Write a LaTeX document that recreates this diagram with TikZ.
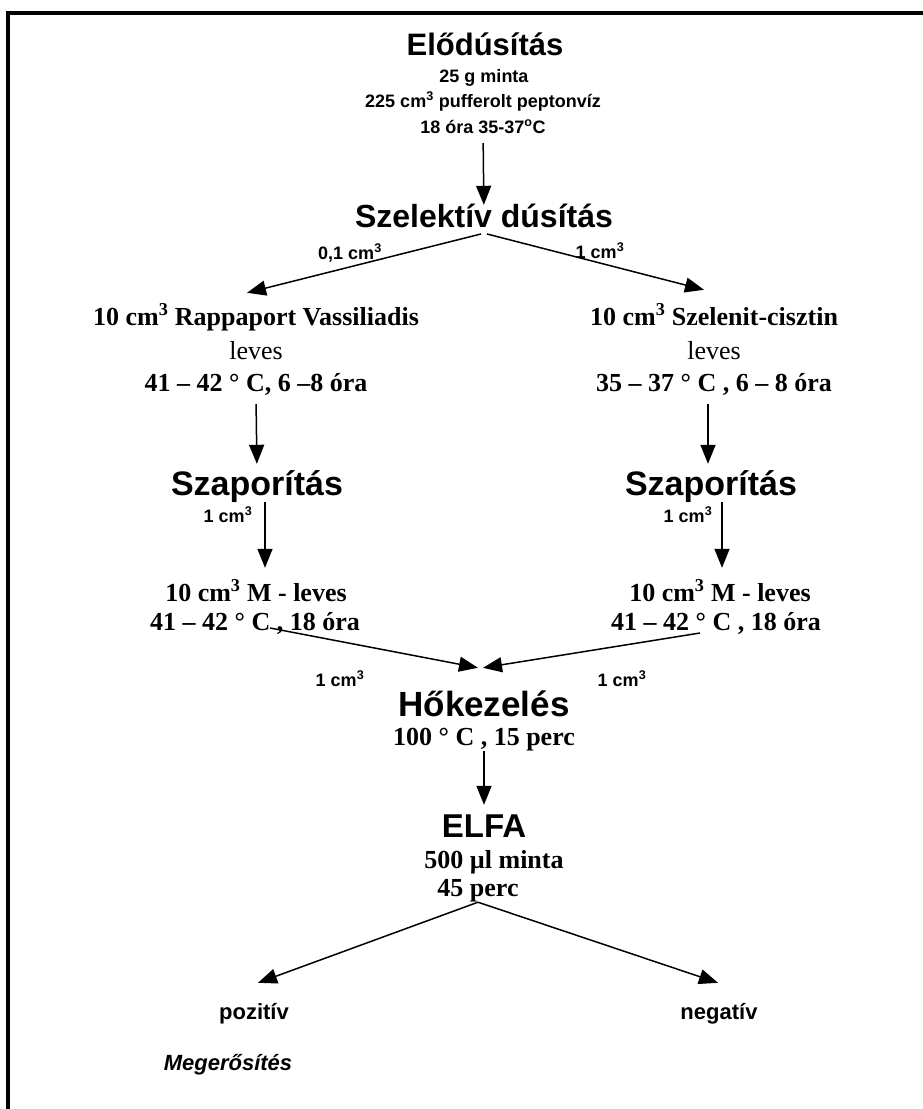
\documentclass[tikz,border=0pt]{standalone}
\usepackage{fontspec}
\setmainfont{Liberation Serif}
\newfontfamily\arialfont{Liberation Sans}
\usetikzlibrary{arrows.meta}

\begin{document}
\begin{tikzpicture}[x=1pt, y=-1pt,
    head/.style={font=\arialfont\bfseries\fontsize{#1}{#1}\selectfont, inner sep=0pt, text height=22pt, text depth=6pt, anchor=base},
    head/.default=31,
    lbl/.style={font=\arialfont\bfseries\fontsize{18}{20}\selectfont, inner sep=0pt, text height=13pt, text depth=4pt, anchor=base},
    serif/.style={font=\bfseries\fontsize{26}{30}\selectfont, inner sep=0pt, text height=18pt, text depth=6pt, anchor=base},
    plain/.style={serif, font=\mdseries\fontsize{26}{30}\selectfont},
    result/.style={font=\arialfont\bfseries\fontsize{22}{26}\selectfont, inner sep=0pt, text height=16pt, text depth=5pt, anchor=base},
    arr/.style={-{Triangle[length=19pt,width=15pt]}, line width=1.5pt}]
    \useasboundingbox (0,0) rectangle (923,1109);
    \draw[line width=4pt] (923,13) -- (8,13) -- (8,1109);
    % eloduasitas
    \node (P) at (485,55) [head=31] {Elődúsítás};
    \node (P1) at (484,82) [lbl] {25 g minta};
    \node (P2) at (483,107) [lbl] {225 cm\textsuperscript{3} pufferolt peptonvíz};
    \node (P3) at (483,133) [lbl] {18 óra 35-37\textsuperscript{o}C};
    \node (S) at (484,227) [head=32] {Szelektív dúsítás};
    \node (S1) at (350,259) [lbl] {0,1 cm\textsuperscript{3}};
    \node (S2) at (600,258) [lbl] {1 cm\textsuperscript{3}};
    \node (RV1) at (256,325) [serif] {10 cm\textsuperscript{3} Rappaport Vassiliadis};
    \node (RV2) at (256,359) [plain] {leves};
    \node (RV3) at (256,391) [serif] {41 – 42 ° C, 6 –8 óra};
    \node (SC1) at (714,325) [serif] {10 cm\textsuperscript{3} Szelenit-cisztin};
    \node (SC2) at (714,359) [plain] {leves};
    \node (SC3) at (714,391) [serif] {35 – 37 ° C , 6 – 8 óra};
    \node (SzL) at (257,495) [head=34] {Szaporítás};
    \node (SzR) at (711,495) [head=34] {Szaporítás};
    \node (L1) at (228,522) [lbl] {1 cm\textsuperscript{3}};
    \node (R1) at (688,522) [lbl] {1 cm\textsuperscript{3}};
    \node (ML1) at (256,601) [serif] {10 cm\textsuperscript{3} M - leves};
    \node (ML2) at (255,630) [serif] {41 – 42 ° C , 18 óra};
    \node (MR1) at (720,601) [serif] {10 cm\textsuperscript{3} M - leves};
    \node (MR2) at (716,630) [serif] {41 – 42 ° C , 18 óra};
    \node (L2) at (340,686) [lbl] {1 cm\textsuperscript{3}};
    \node (R2) at (622,686) [lbl] {1 cm\textsuperscript{3}};
    \node (H) at (484,716) [head=35] {Hőkezelés};
    \node (H1) at (484,745) [serif] {100 ° C , 15 perc};
    \node (F) at (484,837) [head=33] {ELFA};
    \node (F1) at (494,868) [serif] {500 µl minta};
    \node (F2) at (478,896) [serif] {45 perc};
    \node (Poz) at (254,1019) [result] {pozitív};
    \node (Neg) at (719,1019) [result] {negatív};
    \node (Meg) at (228,1070) [result, font=\arialfont\bfseries\itshape\fontsize{22}{26}\selectfont] {Megerősítés};
    %
    \draw[arr, shorten <=6pt] (P3) -- (S);
    \draw[arr, shorten <=3pt] (S.south) -- ([xshift=-9pt,yshift=14pt]RV1.north);
    \draw[arr, shorten <=3pt] (S.south) -- ([xshift=-10pt,yshift=17pt]SC1.north);
    \draw[arr, shorten <=7pt, shorten >=9pt] (RV3.south) -- (SzL.north);
    \draw[arr, shorten <=7pt, shorten >=9pt] ([xshift=-6pt]SC3.south) -- ([xshift=-3pt]SzR.north);
    \draw[arr, shorten <=1pt, shorten >=15pt] ([xshift=8pt]SzL.south) -- ([xshift=9pt]ML1.north);
    \draw[arr, shorten <=1pt, shorten >=15pt] ([xshift=11pt]SzR.south) -- ([xshift=2pt]MR1.north);
    \draw[arr] ([xshift=15pt,yshift=2pt]ML2.base) -- ([xshift=-6pt,yshift=26pt]H.north);
    \draw[arr] ([xshift=-16pt,yshift=-3pt]MR2.base) -- ([xshift=-1pt,yshift=26pt]H.north);
    \draw[arr, shorten <=0pt, shorten >=10pt] (H1.south) -- (F.north);
    \draw[arr] (F2.south) -- ([xshift=4pt,yshift=20pt]Poz.north);
    \draw[arr] (F2.south) -- ([xshift=-1pt,yshift=20pt]Neg.north);
\end{tikzpicture}
\end{document}
